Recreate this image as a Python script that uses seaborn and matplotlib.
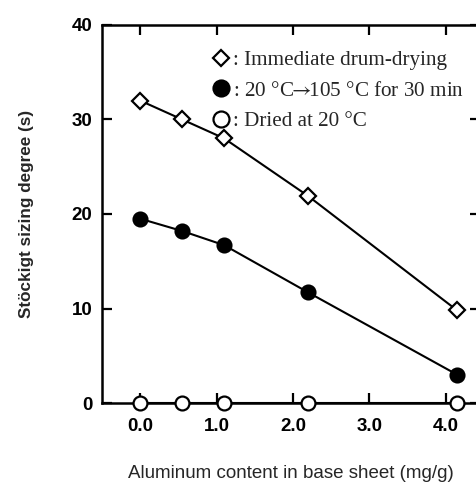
import numpy as np
import pandas as pd
import seaborn as sns
import matplotlib
matplotlib.use("Agg")
import matplotlib.pyplot as plt
from matplotlib.lines import Line2D

# Aluminum content of the base sheet (mg/g)
aluminum = [0.0, 0.55, 1.1, 2.2, 4.15]

# Stöckigt sizing degree (s) for each drying condition
drum_drying = [32.0, 30.0, 28.0, 21.9, 9.8]
heat_105 = [19.5, 18.2, 16.7, 11.7, 3.0]
dried_20 = [0.0, 0.0, 0.0, 0.0, 0.0]

labels = [
    ": Immediate drum-drying",
    ": 20 \u00b0C$\\!\\!\\rightarrow\\!\\!$105 \u00b0C for 30 min",
    ": Dried at 20 \u00b0C",
]
x_ticks = [0.0, 1.0, 2.0, 3.0, 4.0]
x_tick_labels = ["0.0", "1.0", "2.0", "3.0", "4.0"]
y_ticks = [0, 10, 20, 30, 40]

df = pd.DataFrame({
    "al": aluminum * 3,
    "sizing": drum_drying + heat_105 + dried_20,
    "series": [labels[0]] * 5 + [labels[1]] * 5 + [labels[2]] * 5,
})

sns.set_theme(style="ticks")
plt.rcParams["font.family"] = ["Liberation Sans", "DejaVu Sans"]
plt.rcParams["mathtext.fontset"] = "stix"

fig = plt.figure(figsize=(4.77, 4.84), dpi=100)
ax = fig.add_axes([102 / 477, 81 / 484, 378 / 477, 378 / 484])

styles = [
    dict(marker="D", ms=8.5, mfc="white"),
    dict(marker="o", ms=10, mfc="black"),
    dict(marker="o", ms=10, mfc="white"),
]
for lab, st in zip(labels, styles):
    sub = df[df["series"] == lab]
    sns.lineplot(data=sub, x="al", y="sizing", ax=ax, color="black",
                 linewidth=1.5, marker=st["marker"], markersize=st["ms"],
                 markerfacecolor=st["mfc"], markeredgecolor="black",
                 markeredgewidth=1.6, clip_on=False, zorder=5,
                 legend=False)

ax.set_xlim(-0.5, 4.45)
ax.set_ylim(0, 40)
ax.set_xticks(x_ticks)
ax.set_xticklabels(x_tick_labels)
ax.set_yticks(y_ticks)

for side in ["left", "bottom", "top", "right"]:
    ax.spines[side].set_linewidth(1.8)
    ax.spines[side].set_color("black")

ax.tick_params(axis="both", direction="in", length=7, width=1.6,
               colors="black", top=True, right=True, labelsize=13.5)
ax.tick_params(axis="x", pad=11)
ax.tick_params(axis="y", pad=7)
for t in ax.get_xticklabels() + ax.get_yticklabels():
    t.set_fontweight("bold")

ax.set_xlabel("Aluminum content in base sheet (mg/g)", fontsize=13.5)
ax.set_ylabel("St\u00f6ckigt sizing degree (s)", fontsize=12.3,
              fontweight="bold")
ax.xaxis.set_label_coords(0.5, -0.165)
ax.yaxis.set_label_coords(-0.18, 0.5)

handles = [
    Line2D([], [], linestyle="none", marker="D", ms=8.5, mfc="white",
           mec="black", mew=1.6),
    Line2D([], [], linestyle="none", marker="o", ms=11.5, mfc="black",
           mec="black", mew=1.6),
    Line2D([], [], linestyle="none", marker="o", ms=11.5, mfc="white",
           mec="black", mew=1.6),
]
ax.legend(handles, labels, loc="upper left", bbox_to_anchor=(0.27, 0.955),
          frameon=False, handlelength=0.8, handletextpad=0.15,
          labelspacing=0.5, borderaxespad=0,
          prop={"family": "Liberation Serif", "size": 15.2})

fig.savefig("out.png", dpi=100)
